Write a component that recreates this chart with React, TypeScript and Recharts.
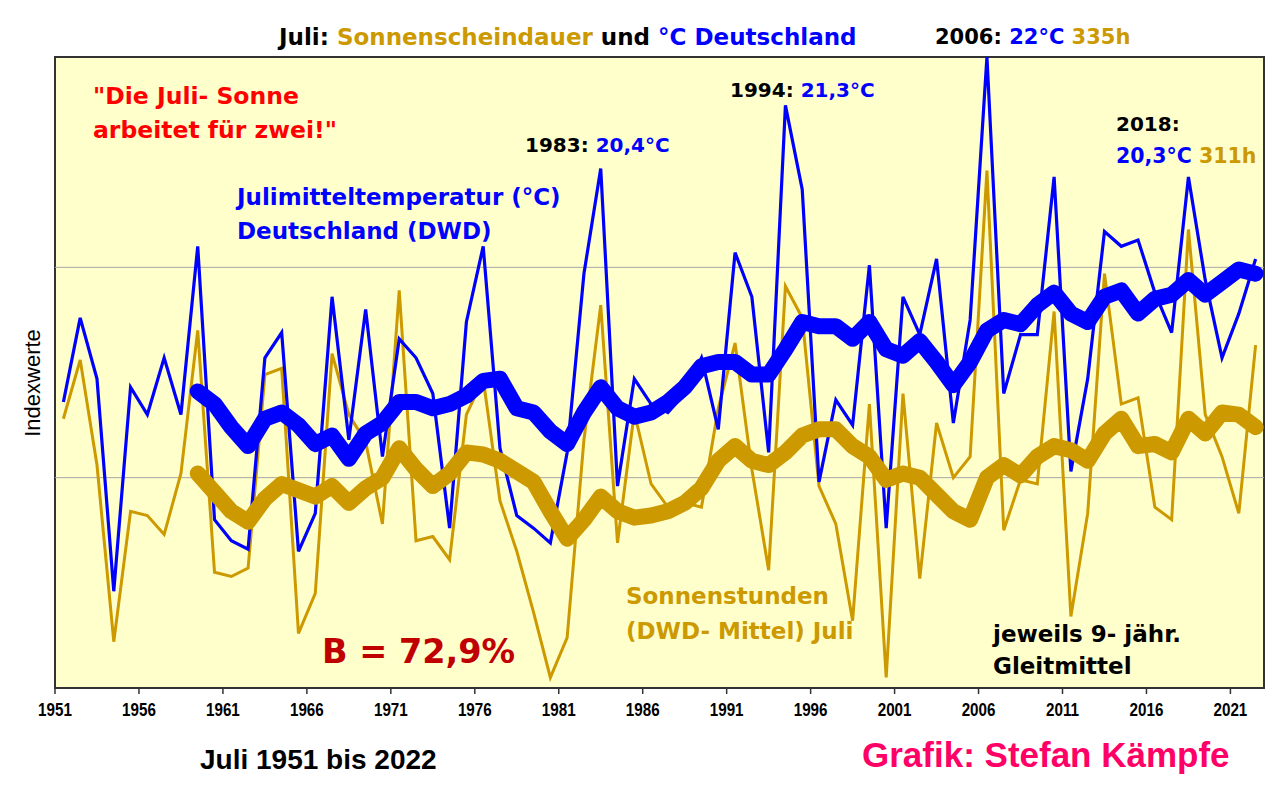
import React from "react";
import { LineChart, Line, XAxis, YAxis, ReferenceLine, ReferenceArea, CartesianGrid } from "recharts";

// Juli 1951..2022, Indexwerte (Skala 0..300)
const firstYear = 1951;

const temperature = [
  136, 176, 147, 46, 143, 130, 157, 130, 210, 80,
  70, 66, 157, 169, 65, 83, 186, 118, 180, 110,
  166, 157, 140, 76, 174, 210, 114, 82, 76, 69,
  112, 197, 247, 96, 147, 135, 131, 140, 157, 123,
  207, 186, 112, 277, 237, 98, 137, 125, 201, 76,
  186, 168, 204, 126, 175, 300, 140, 168, 168, 243,
  103, 147, 217, 210, 213, 188, 169, 243, 194, 157,
  178, 204,
];

const sunshine = [
  128, 156, 106, 22, 84, 82, 73, 102, 170, 55,
  53, 57, 149, 152, 26, 45, 159, 130, 117, 78,
  189, 70, 72, 61, 130, 147, 89, 65, 36, 5,
  24, 118, 182, 69, 131, 97, 86, 88, 86, 133,
  164, 104, 56, 191, 176, 96, 78, 32, 135, 5,
  140, 52, 126, 100, 110, 246, 75, 99, 97, 179,
  34, 83, 197, 135, 138, 86, 80, 218, 130, 110,
  83, 163,
];

// 9-jaehrige Gleitmittel, ab 1959
const maStart = 1959;

const temperatureMA = [
  141, 135, 124, 115, 128, 131, 125, 116, 120, 109, 121, 126, 136, 136, 133, 135,
  139, 146, 147, 133, 131, 122, 116, 131, 143, 133, 129, 131, 136, 143, 153, 155,
  155, 149, 149, 161, 174, 172, 172, 166,
  174, 161, 158, 165, 155, 144, 155, 170, 175, 173, 182, 188, 178, 174, 186, 189,
  178, 185, 187, 194, 187, 193, 199, 197,
];

const sunshineMA = [
  102, 93, 84, 79, 90, 97, 94, 91, 96, 88, 95, 100, 114, 104, 96, 102,
  112, 111, 108, 103, 98, 84, 71, 80, 91, 84, 81, 82, 84, 88, 95, 108,
  115, 108, 106, 112, 120, 123, 123, 115,
  110, 99, 102, 100, 92, 84, 80, 100, 106, 101, 110, 115, 113, 108, 121, 128,
  115, 116, 112, 128, 121, 131, 130, 124,
];

const yearTicks = [1951, 1956, 1961, 1966, 1971, 1976, 1981, 1986, 1991, 1996, 2001, 2006, 2011, 2016, 2021];

const data = temperature.map((t, i) => {
  const year = firstYear + i;
  const k = year - maStart;
  return {
    year,
    pos: year + 0.5,
    temp: t,
    sun: sunshine[i],
    tempMA: k >= 0 ? temperatureMA[k] : null,
    sunMA: k >= 0 ? sunshineMA[k] : null,
  };
});

const BLUE = "#0000FF";
const GOLD = "#CC9900";
const BOLD_FONT = "'DejaVu Sans', 'Liberation Sans', sans-serif";
const ARIAL = "'Liberation Sans', Arial, sans-serif";

// schmale, hohe Jahreszahlen wie im Original
function YearTick(props: any) {
  const { x, y, payload } = props;
  return (
    <text
      transform={`translate(${x},${y + 16}) scale(0.8,1)`}
      textAnchor="middle"
      fontSize={19}
      fontWeight={700}
      fontFamily={ARIAL}
      fill="#000"
    >
      {payload.value}
    </text>
  );
}

function Label({
  x,
  y,
  size,
  color = "#000",
  family = BOLD_FONT,
  children,
}: {
  x: number;
  y: number;
  size: number;
  color?: string;
  family?: string;
  children: React.ReactNode;
}) {
  return (
    <div
      style={{
        position: "absolute",
        left: x,
        top: y,
        transform: "translateY(-50%)",
        fontSize: size,
        fontWeight: 700,
        color,
        fontFamily: family,
        whiteSpace: "nowrap",
        lineHeight: 1,
      }}
    >
      {children}
    </div>
  );
}

export default function App() {
  return (
    <div
      style={{
        position: "absolute",
        left: 0,
        top: 0,
        width: 1287,
        height: 787,
        background: "#fff",
        overflow: "hidden",
      }}
    >
      <LineChart width={1287} height={787} data={data} margin={{ top: 57, right: 23, bottom: 69, left: 55 }}>
        <CartesianGrid horizontal={false} vertical={false} fill="#FFFFCC" fillOpacity={1} />
        <XAxis
          type="number"
          dataKey="pos"
          domain={[1951, 2023]}
          ticks={yearTicks}
          interval={0}
          height={30}
          tickSize={6}
          tickMargin={6}
          allowDataOverflow
          axisLine={{ stroke: "#333", strokeWidth: 2 }}
          tickLine={{ stroke: "#333", strokeWidth: 1.5 }}
          tick={<YearTick />}
        />
        <YAxis hide domain={[0, 300]} allowDataOverflow />
        <ReferenceLine y={100} stroke="#A8A8A8" strokeWidth={1} />
        <ReferenceLine y={200} stroke="#A8A8A8" strokeWidth={1} />
        <Line type="linear" dataKey="sun" stroke={GOLD} strokeWidth={3} dot={false} isAnimationActive={false} />
        <Line type="linear" dataKey="temp" stroke={BLUE} strokeWidth={3.2} dot={false} isAnimationActive={false} />
        <Line
          type="linear"
          dataKey="sunMA"
          stroke={GOLD}
          strokeWidth={16}
          strokeLinejoin="round"
          strokeLinecap="round"
          dot={false}
          isAnimationActive={false}
        />
        <Line
          type="linear"
          dataKey="tempMA"
          stroke={BLUE}
          strokeWidth={16}
          strokeLinejoin="round"
          strokeLinecap="round"
          dot={false}
          isAnimationActive={false}
        />
        <ReferenceArea x1={1951} x2={2023} y1={0} y2={300} fill="none" stroke="#333" strokeWidth={2} />
      </LineChart>

      <div
        style={{
          position: "absolute",
          left: 33,
          top: 383,
          transform: "translate(-50%, -50%) rotate(-90deg)",
          fontSize: 22,
          fontFamily: ARIAL,
          color: "#000",
          whiteSpace: "nowrap",
        }}
      >
        Indexwerte
      </div>

      <Label x={279} y={37} size={23}>
        Juli: <span style={{ color: GOLD }}>Sonnenscheindauer</span> und{" "}
        <span style={{ color: BLUE }}>°C Deutschland</span>
      </Label>
      <Label x={935} y={37} size={21}>
        2006: <span style={{ color: BLUE }}>22°C</span> <span style={{ color: GOLD }}>335h</span>
      </Label>

      <Label x={93} y={97} size={23.5} color="#FF0000">
        "Die Juli- Sonne
      </Label>
      <Label x={93} y={131} size={23.5} color="#FF0000">
        arbeitet für zwei!"
      </Label>

      <Label x={237} y={197} size={23} color={BLUE}>
        Julimitteltemperatur (°C)
      </Label>
      <Label x={237} y={231} size={23} color={BLUE}>
        Deutschland (DWD)
      </Label>

      <Label x={525} y={145} size={20}>
        1983: <span style={{ color: BLUE }}>20,4°C</span>
      </Label>
      <Label x={730} y={90} size={20}>
        1994: <span style={{ color: BLUE }}>21,3°C</span>
      </Label>
      <Label x={1116} y={124} size={20}>
        2018:
      </Label>
      <Label x={1116} y={156} size={20.5} color={BLUE}>
        20,3°C <span style={{ color: GOLD }}>311h</span>
      </Label>

      <Label x={322} y={652} size={33.5} color="#C00000">
        B = 72,9%
      </Label>

      <Label x={626} y={596} size={23} color={GOLD}>
        Sonnenstunden
      </Label>
      <Label x={626} y={631} size={23} color={GOLD}>
        (DWD- Mittel) Juli
      </Label>

      <Label x={993} y={634} size={23}>
        jeweils 9- jähr.
      </Label>
      <Label x={993} y={666} size={23}>
        Gleitmittel
      </Label>

      <Label x={200} y={760} size={28} family={ARIAL}>
        Juli 1951 bis 2022
      </Label>
      <Label x={862} y={754} size={35} color="#FF0066" family={ARIAL}>
        Grafik: Stefan Kämpfe
      </Label>
    </div>
  );
}
